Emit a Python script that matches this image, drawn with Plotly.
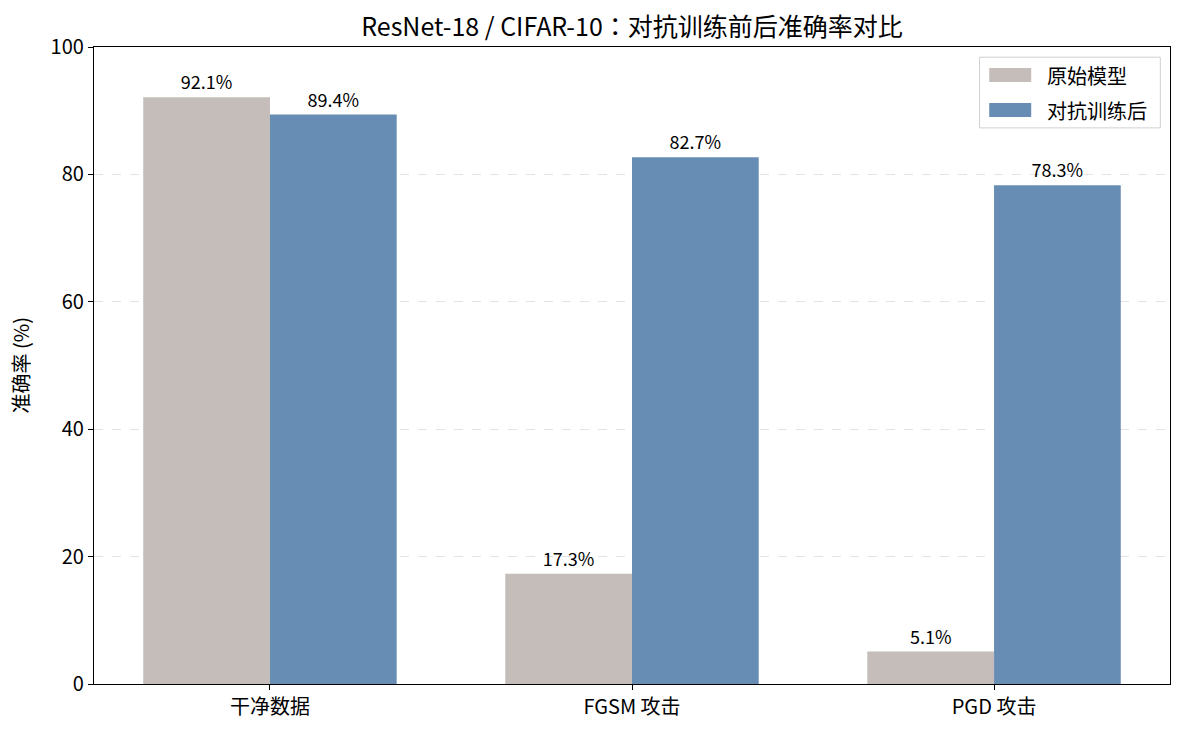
import plotly.graph_objects as go

categories = ["干净数据", "FGSM 攻击", "PGD 攻击"]
original = [92.1, 17.3, 5.1]
adv_trained = [89.4, 82.7, 78.3]
series_names = ["原始模型", "对抗训练后"]
y_ticks = [0, 20, 40, 60, 80, 100]

GRAY = "#c4bdb9"
BLUE = "#688db4"
FONT = "Noto Sans CJK JP"

fig = go.Figure()
for name, vals, col in [(series_names[0], original, GRAY), (series_names[1], adv_trained, BLUE)]:
    fig.add_trace(go.Bar(
        x=categories, y=vals, name=name, marker=dict(color=col, line=dict(width=0)),
        text=[f"{v:.1f}%" for v in vals], textposition="outside",
        textfont=dict(family=FONT, size=18, color="black"), cliponaxis=False,
        showlegend=False,
    ))

fig.update_layout(
    width=1184, height=736,
    margin=dict(l=94, r=14, t=47, b=52),
    paper_bgcolor="white", plot_bgcolor="white",
    barmode="group", bargap=0.3, bargroupgap=0,
    font=dict(family=FONT, size=20, color="black"),
    title=dict(text="ResNet-18 / CIFAR-10：对抗训练前后准确率对比", xref="paper", x=0.5, xanchor="center",
               y=1 - 27 / 736, yanchor="middle", font=dict(family=FONT, size=25)),
    uniformtext=dict(mode=False),
)
fig.update_xaxes(
    range=[-0.486, 2.486], showline=True, linecolor="black", linewidth=1.2, mirror=True,
    ticks="outside", ticklen=5, tickcolor="black", showgrid=False,
    tickfont=dict(family=FONT, size=20),
)
fig.update_yaxes(
    range=[0, 100], tickvals=y_ticks, ticktext=[str(t) for t in y_ticks],
    showline=True, linecolor="black", linewidth=1.2, mirror=True,
    ticks="outside", ticklen=5, tickcolor="black",
    showgrid=True, gridcolor="rgba(200,200,200,0.5)", griddash="dash", gridwidth=1,
    zeroline=False,
    tickfont=dict(family=FONT, size=20),
)
fig.add_annotation(xref="paper", yref="paper", x=(20 - 94) / 1076, y=0.5, text="准确率 (%)",
                   textangle=-90, showarrow=False, xanchor="center", yanchor="middle",
                   font=dict(family=FONT, size=20, color="black"))

# Legend (matplotlib-style)
fig.add_shape(type="rect", xref="paper", yref="paper", x0=0.823, x1=0.991, y0=0.873, y1=0.984,
              line=dict(color="#d0d0d0", width=1), fillcolor="rgba(255,255,255,0.85)")
rows = [(0.956, series_names[0], GRAY), (0.901, series_names[1], BLUE)]
for yc, name, col in rows:
    fig.add_shape(type="rect", xref="paper", yref="paper", x0=0.832, x1=0.871,
                  y0=yc - 0.011, y1=yc + 0.011, line=dict(width=0), fillcolor=col)
    fig.add_annotation(xref="paper", yref="paper", x=0.884, y=yc, text=name, showarrow=False,
                       xanchor="left", yanchor="middle", font=dict(family=FONT, size=20, color="black"))

fig.write_html("out.html")
